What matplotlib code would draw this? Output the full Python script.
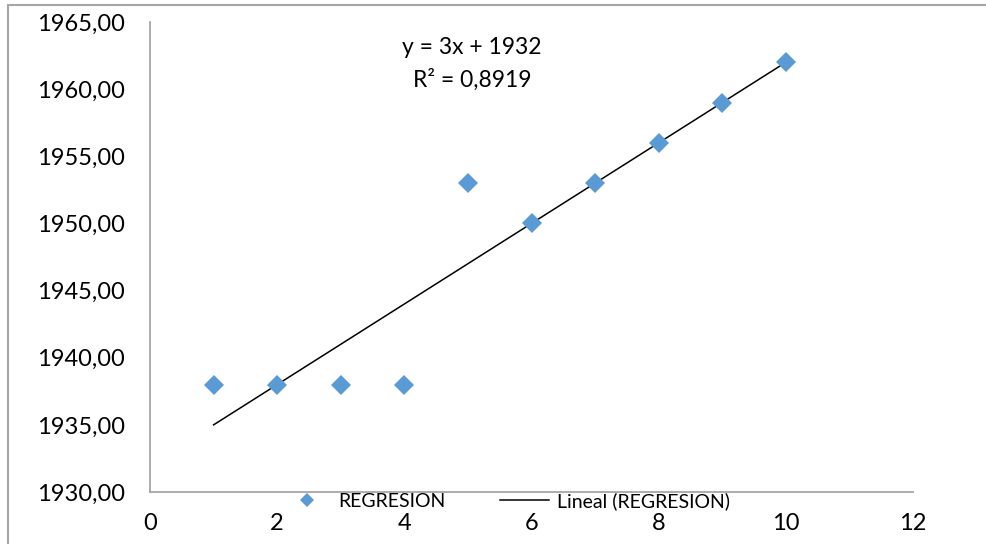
import numpy as np
import matplotlib.pyplot as plt
from matplotlib.patches import Rectangle
from matplotlib.ticker import FuncFormatter, MultipleLocator

plt.rcParams["font.family"] = ["Lato", "DejaVu Sans"]

x_vals = [1, 2, 3, 4, 5, 6, 7, 8, 9, 10]
y_vals = [1938, 1938, 1938, 1938, 1953, 1950, 1953, 1956, 1959, 1962]
series_name = "REGRESION"
trend_name = "Lineal (REGRESION)"
equation_text = "y = 3x + 1932"
r2_text = "R² = 0,8919"

blue = "#5B9BD5"
gray = "#A6A6A6"

fig = plt.figure(figsize=(9.86, 5.44), dpi=100)
ax = fig.add_axes([150 / 986, 1 - 492 / 544, (913 - 150) / 986, (492 - 22) / 544])

# linear trend line over the data range
slope, intercept = np.polyfit(x_vals, y_vals, 1)
xs = np.array([min(x_vals), max(x_vals)])
ax.plot(xs, slope * xs + intercept, color="black", lw=1.1, label=trend_name, zorder=2)
ax.plot(x_vals, y_vals, linestyle="none", marker="D", ms=9.8, mew=0,
        color=blue, label=series_name, zorder=3)

ax.set_xlim(0, 12)
ax.set_ylim(1930, 1965)
ax.xaxis.set_major_locator(MultipleLocator(2))
ax.yaxis.set_major_locator(MultipleLocator(5))
ax.yaxis.set_major_formatter(FuncFormatter(lambda v, p: f"{v:.2f}".replace(".", ",")))

for side in ["top", "right"]:
    ax.spines[side].set_visible(False)
for side in ["left", "bottom"]:
    ax.spines[side].set_color(gray)
    ax.spines[side].set_linewidth(1.3)

ax.tick_params(axis="both", length=0, labelsize=17, colors="black")
ax.tick_params(axis="x", pad=15)
ax.tick_params(axis="y", pad=18)

# equation + R² label
fig.text(472 / 986, 1 - 48 / 544, equation_text, ha="center", va="center", fontsize=16.5)
fig.text(472 / 986, 1 - 80 / 544, r2_text, ha="center", va="center", fontsize=16.5)

handles, labels = ax.get_legend_handles_labels()
fig.legend(handles[::-1], labels[::-1], loc="center", ncol=2,
           bbox_to_anchor=(506 / 986, 1 - 501 / 544), frameon=False,
           fontsize=14, handlelength=2.5, columnspacing=2.8, handletextpad=0.4,
           borderpad=0, borderaxespad=0, markerscale=0.7)

# chart area border (cropped at right/bottom)
fig.patches.append(Rectangle((8 / 986, -0.2), 1.5, 1 - 5 / 544 + 0.2,
                             transform=fig.transFigure, fill=False,
                             edgecolor=gray, lw=1.5))

fig.savefig("out.png", dpi=100)
